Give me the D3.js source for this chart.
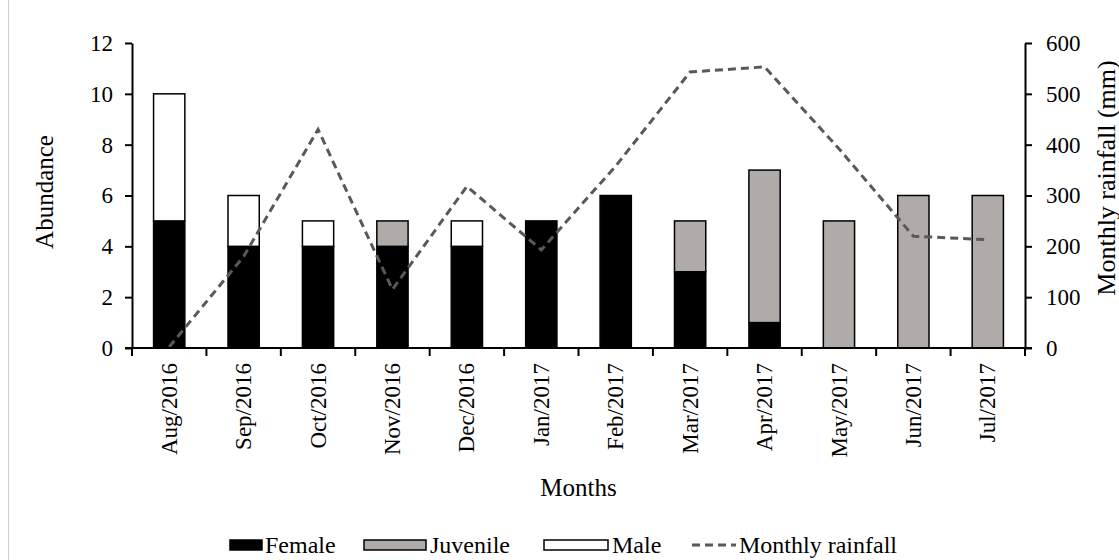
<!DOCTYPE html>
<html>
<head>
<meta charset="utf-8">
<script src="https://cdn.jsdelivr.net/npm/d3@7"></script>
<style>
  html, body { margin: 0; padding: 0; background: #fff; }
  svg { display: block; }
  text { font-family: "Liberation Serif", "Times New Roman", serif; fill: #000; }
</style>
</head>
<body>
<svg id="chart" width="1119" height="560"></svg>
<script>
// Monthly abundance by group, with monthly rainfall on the secondary axis
const months = ["Aug/2016", "Sep/2016", "Oct/2016", "Nov/2016", "Dec/2016", "Jan/2017",
                "Feb/2017", "Mar/2017", "Apr/2017", "May/2017", "Jun/2017", "Jul/2017"];
const female   = [5, 4, 4, 4, 4, 5, 6, 3, 1, 0, 0, 0];
const juvenile = [0, 0, 0, 1, 0, 0, 0, 2, 6, 5, 6, 6];
const male     = [5, 2, 1, 0, 1, 0, 0, 0, 0, 0, 0, 0];
const rainfall = [2, 180, 430, 115, 318, 193, 358, 543, 553, 392, 220, 213];
const abundanceTicks = [0, 2, 4, 6, 8, 10, 12];
const rainfallTicks = [0, 100, 200, 300, 400, 500, 600];

const seriesNames = ["Female", "Juvenile", "Male"];
const fills = { Female: "#000000", Juvenile: "#afaba9", Male: "#ffffff" };

const svg = d3.select("#chart");
const plotLeft = 132, plotRight = 1025, plotTop = 43, plotBottom = 348;

// thin frame line at the left edge
svg.append("line").attr("x1", 8.5).attr("x2", 8.5).attr("y1", 0).attr("y2", 560)
  .attr("stroke", "#cfcfcf").attr("stroke-width", 1);

const x = d3.scaleBand().domain(months).range([plotLeft, plotRight])
  .paddingInner(0.58).paddingOuter(0.29);
const y = d3.scaleLinear().domain([0, 12]).range([plotBottom, plotTop]);
const y2 = d3.scaleLinear().domain([0, 600]).range([plotBottom, plotTop]);

const table = months.map((m, i) => ({ month: m, Female: female[i], Juvenile: juvenile[i], Male: male[i] }));
const stacked = d3.stack().keys(seriesNames)(table);

// stacked bars
svg.append("g").selectAll("g").data(stacked).join("g")
  .attr("fill", d => fills[d.key])
  .selectAll("rect").data(d => d.filter(p => p[1] > p[0])).join("rect")
    .attr("x", d => x(d.data.month))
    .attr("width", x.bandwidth())
    .attr("y", d => y(d[1]))
    .attr("height", d => y(d[0]) - y(d[1]))
    .attr("stroke", "#000").attr("stroke-width", 1.5);

// rainfall line
const line = d3.line().x((d, i) => x(months[i]) + x.bandwidth() / 2).y(d => y2(d));
svg.append("path").datum(rainfall)
  .attr("d", line).attr("fill", "none")
  .attr("stroke", "#595959").attr("stroke-width", 3)
  .attr("stroke-dasharray", "8,5");

// left axis
const yAxis = svg.append("g").attr("transform", `translate(${plotLeft},0)`)
  .call(d3.axisLeft(y).tickValues(abundanceTicks).tickSize(7).tickPadding(12).tickSizeOuter(0));
// right axis
const y2Axis = svg.append("g").attr("transform", `translate(${plotRight},0)`)
  .call(d3.axisRight(y2).tickValues(rainfallTicks).tickSize(7).tickPadding(14).tickSizeOuter(0));
[yAxis, y2Axis].forEach(g => {
  g.select(".domain").attr("stroke", "#000").attr("stroke-width", 2);
  g.selectAll(".tick line").attr("stroke", "#000").attr("stroke-width", 2);
  g.selectAll(".tick text").style("font-size", "23px").attr("font-family", null);
});

// bottom axis: boundary ticks and rotated month labels
const xAxis = svg.append("g").attr("transform", `translate(0,${plotBottom})`)
  .call(d3.axisBottom(x).tickSize(0).tickPadding(0).tickSizeOuter(0));
xAxis.select(".domain").remove();
xAxis.selectAll(".tick text")
  .style("font-size", "23px").attr("font-family", null)
  .attr("transform", "rotate(-90)")
  .attr("text-anchor", "end")
  .attr("x", -15).attr("y", 0).attr("dy", "0.33em");
svg.append("line").attr("x1", plotLeft - 7).attr("x2", plotRight + 7)
  .attr("y1", plotBottom).attr("y2", plotBottom).attr("stroke", "#000").attr("stroke-width", 2);
const bounds = months.map(m => x(m) + x.bandwidth() / 2 - x.step() / 2).concat([plotRight]);
svg.append("g").selectAll("line").data(bounds).join("line")
  .attr("x1", d => d).attr("x2", d => d)
  .attr("y1", plotBottom).attr("y2", plotBottom + 8)
  .attr("stroke", "#000").attr("stroke-width", 2);

// axis titles
svg.append("text").attr("transform", `translate(44,192) rotate(-90)`)
  .attr("text-anchor", "middle").attr("dominant-baseline", "central")
  .style("font-size", "25px").text("Abundance");
svg.append("text").attr("transform", `translate(1106,178) rotate(-90)`)
  .attr("text-anchor", "middle").attr("dominant-baseline", "central")
  .style("font-size", "26px").text("Monthly rainfall (mm)");
svg.append("text").attr("x", (plotLeft + plotRight) / 2).attr("y", 496)
  .attr("text-anchor", "middle").style("font-size", "25px").text("Months");

// legend
const ly = 545;
const legend = svg.append("g");
const swatches = [
  { name: "Female", x0: 230, w: 32, tx: 265 },
  { name: "Juvenile", x0: 364, w: 62, tx: 430 },
  { name: "Male", x0: 544, w: 64, tx: 612 }
];
legend.selectAll("rect").data(swatches).join("rect")
  .attr("x", d => d.x0).attr("y", ly - 5).attr("width", d => d.w).attr("height", 10)
  .attr("fill", d => fills[d.name]).attr("stroke", "#000").attr("stroke-width", 1.5);
legend.selectAll("text.item").data(swatches).join("text").attr("class", "item")
  .attr("x", d => d.tx).attr("y", ly).attr("dominant-baseline", "central")
  .style("font-size", "24px").text(d => d.name);
legend.append("line").attr("x1", 692).attr("x2", 736).attr("y1", ly).attr("y2", ly)
  .attr("stroke", "#595959").attr("stroke-width", 3).attr("stroke-dasharray", "8,5");
legend.append("text").attr("x", 739).attr("y", ly).attr("dominant-baseline", "central")
  .style("font-size", "24px").text("Monthly rainfall");
</script>
</body>
</html>
